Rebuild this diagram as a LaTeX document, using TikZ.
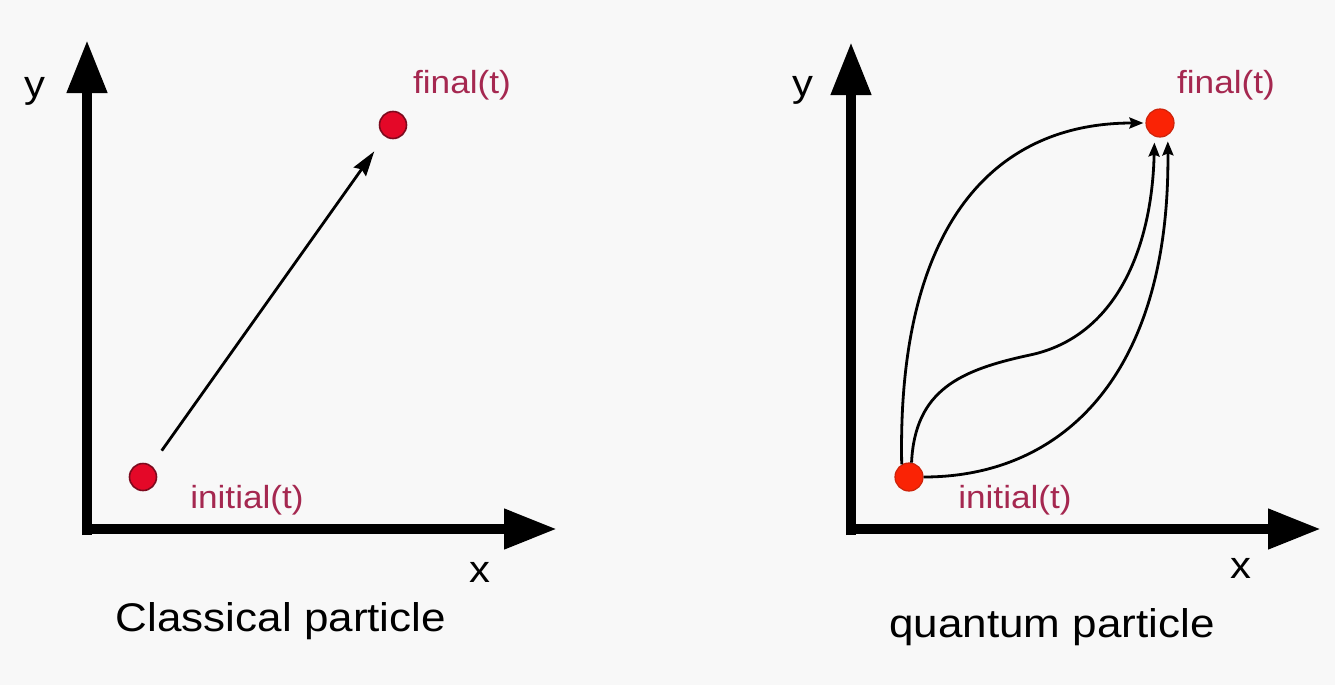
\documentclass[tikz,border=0pt]{standalone}
\usepackage{fontspec}
\setmainfont{Liberation Sans}
\usetikzlibrary{arrows.meta}
\definecolor{bgcol}{RGB}{248,248,248}
\definecolor{lblcol}{RGB}{165,40,80}
\definecolor{dotLfill}{RGB}{228,8,40}
\definecolor{dotLedge}{RGB}{125,10,30}
\definecolor{dotRfill}{RGB}{250,35,5}
\definecolor{dotRedge}{RGB}{205,35,10}
\tikzset{
  axisline/.style={line width=10.5pt, -{Triangle[length=53pt,width=38pt]}},
  pathline/.style={line width=2.8pt, -{Stealth[length=14pt,width=11pt,inset=2pt]}},
  straightline/.style={line width=2.8pt, -{Stealth[length=25pt,width=15pt,inset=3pt]}},
  dotL/.style={circle, inner sep=0pt, minimum size=27pt, fill=dotLfill, draw=dotLedge, line width=1.6pt},
  dotR/.style={circle, inner sep=0pt, minimum size=28pt, fill=dotRfill, draw=dotRedge, line width=1.2pt},
  ptlabel/.style={text=lblcol, inner sep=0pt, font=\fontsize{32}{36}\selectfont},
  axlabel/.style={text=black, inner sep=0pt, font=\fontsize{38}{42}\selectfont},
  caption/.style={text=black, inner sep=0pt, anchor=base, font=\fontsize{40}{46}\selectfont}
}
\newcommand{\wide}[1]{\scalebox{1.1}[1]{#1}}
\begin{document}
\begin{tikzpicture}[x=1pt,y=-1pt]
\useasboundingbox (0,0) rectangle (1335,685);
\fill[bgcol] (0,0) rectangle (1335,685);

% ---------- left panel: classical particle ----------
\coordinate (oyL) at (87,535);
\coordinate (tyL) at (87,40);
\coordinate (oxL) at (82,529);
\coordinate (txL) at (557,529);
\draw[axisline] (oyL) -- (tyL);
\draw[axisline] (oxL) -- (txL);
\node[axlabel] (yL) at (35,91) {\wide{y}};
\node[axlabel] (xL) at (480,572) {\wide{x}};

\node[dotL] (iL) at (143,477) {};
\node[dotL] (fL) at (393,125) {};
\node[ptlabel] (fLlab) at (462,85) {\wide{final(t)}};
\node[ptlabel] (iLlab) at (247,500) {\wide{initial(t)}};
\draw[straightline, shorten <=18pt, shorten >=18pt] (iL) -- (fL);

\node[caption] (capL) at (281,631) {\wide{Classical particle}};

% ---------- right panel: quantum particle ----------
\coordinate (oyR) at (851,535);
\coordinate (tyR) at (851,42);
\coordinate (oxR) at (846,529);
\coordinate (txR) at (1321,529);
\draw[axisline] (oyR) -- (tyR);
\draw[axisline] (oxR) -- (txR);
\node[axlabel] (yR) at (803,90) {\wide{y}};
\node[axlabel] (xR) at (1241,568) {\wide{x}};

\node[dotR] (iR) at (909,477) {};
\node[dotR] (fR) at (1160,123) {};
\node[ptlabel] (fRlab) at (1226,85) {\wide{final(t)}};
\node[ptlabel] (iRlab) at (1015,500) {\wide{initial(t)}};

\draw[pathline, shorten >=2pt] (iR.120) .. controls (897,230) and (990,123) .. (fR.west);
\draw[pathline, shorten >=6pt] (iR.80) .. controls (915,390) and (960,370) .. (1030,355)
      .. controls (1115,337) and (1152,250) .. (fR.248);
\draw[pathline, shorten >=6pt] (iR.east) .. controls (1065,477) and (1170,372) .. (fR.-58);

\node[caption] (capR) at (1052,637) {\wide{quantum particle}};
\end{tikzpicture}
\end{document}
